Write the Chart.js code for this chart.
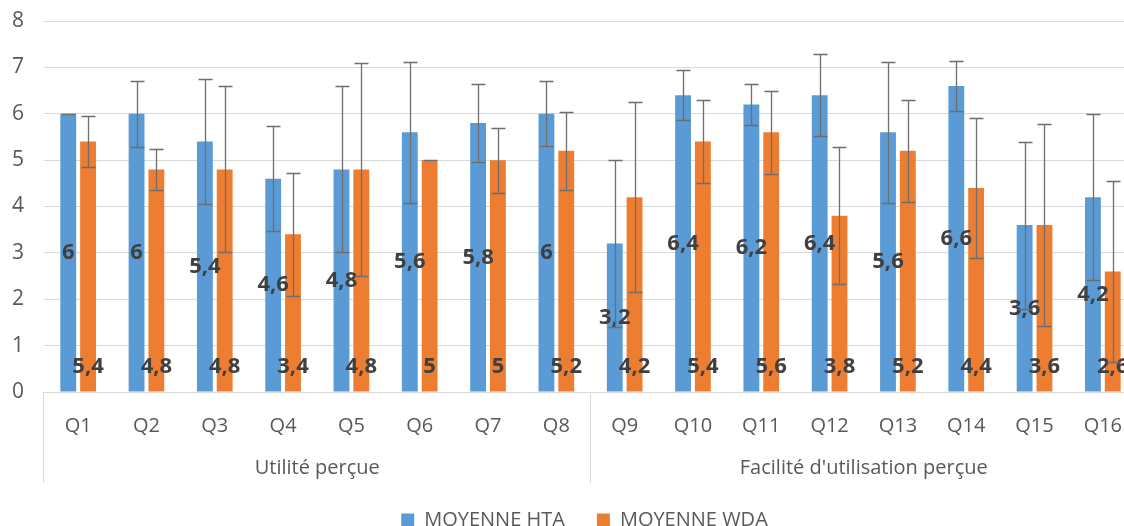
<!DOCTYPE html>
<html>
<head>
<meta charset="utf-8">
<title>Moyennes HTA / WDA</title>
<script src="https://cdn.jsdelivr.net/npm/chart.js@4"></script>
<style>
  body { margin: 0; background: #fff; overflow: hidden; }
  #wrap { width: 1150px; height: 526px; }
</style>
</head>
<body>
<div id="wrap"><canvas id="chart"></canvas></div>
<script>
const questions = ["Q1", "Q2", "Q3", "Q4", "Q5", "Q6", "Q7", "Q8",
  "Q9", "Q10", "Q11", "Q12", "Q13", "Q14", "Q15", "Q16"];
const groupNames = ["Utilité perçue", "Facilité d'utilisation perçue"];
const groupSizes = [8, 8];
const htaMeans = [6, 6, 5.4, 4.6, 4.8, 5.6, 5.8, 6, 3.2, 6.4, 6.2, 6.4, 5.6, 6.6, 3.6, 4.2];
const wdaMeans = [5.4, 4.8, 4.8, 3.4, 4.8, 5, 5, 5.2, 4.2, 5.4, 5.6, 3.8, 5.2, 4.4, 3.6, 2.6];
const htaErrors = [0, 0.71, 1.34, 1.13, 1.79, 1.52, 0.84, 0.7, 1.8, 0.54, 0.45, 0.89, 1.52, 0.54, 1.8, 1.79];
const wdaErrors = [0.55, 0.45, 1.79, 1.33, 2.29, 0, 0.7, 0.84, 2.05, 0.89, 0.89, 1.48, 1.1, 1.51, 2.18, 1.95];
const yTicks = [0, 1, 2, 3, 4, 5, 6, 7, 8];

const font = "'Open Sans', sans-serif";
const fmt = (v) => String(v).replace(".", ",");

const plotTop = 21;
const plotBottom = 392;
const legendTextY = 521;
const legendPad = 32;

// labels: blue ones centred in the bar, orange ones at the base
const valueLabels = {
  id: "valueLabels",
  afterDatasetsDraw(chart) {
    const ctx = chart.ctx;
    ctx.save();
    ctx.font = "bold 22px " + font;
    ctx.fillStyle = "#404040";
    ctx.textAlign = "center";
    ctx.textBaseline = "middle";
    chart.data.datasets.forEach((ds, i) => {
      chart.getDatasetMeta(i).data.forEach((bar, j) => {
        const y = i === 0 ? (bar.y + bar.base) / 2 : bar.base - 25;
        ctx.fillText(fmt(ds.data[j]), bar.x, y);
      });
    });
    ctx.restore();
  },
};

const errorBars = {
  id: "errorBars",
  afterDatasetsDraw(chart) {
    const ctx = chart.ctx;
    const ys = chart.scales.y;
    ctx.save();
    ctx.strokeStyle = "#6e6e6e";
    ctx.lineWidth = 1.3;
    chart.data.datasets.forEach((ds, i) => {
      chart.getDatasetMeta(i).data.forEach((bar, j) => {
        const v = ds.data[j];
        const e = ds.errors[j];
        const top = Math.round(ys.getPixelForValue(v + e)) + 0.5;
        const bot = Math.round(ys.getPixelForValue(v - e)) + 0.5;
        const x = Math.round(bar.x) + 0.5;
        ctx.beginPath();
        ctx.moveTo(x, top); ctx.lineTo(x, bot);
        ctx.moveTo(x - 7, top); ctx.lineTo(x + 7, top);
        ctx.moveTo(x - 7, bot); ctx.lineTo(x + 7, bot);
        ctx.stroke();
      });
    });
    ctx.restore();
  },
};

// second row of category labels + separators
const groupAxis = {
  id: "groupAxis",
  afterDraw(chart) {
    const xs = chart.scales.x;
    const ctx = chart.ctx;
    const n = questions.length;
    ctx.save();
    ctx.strokeStyle = "#d9d9d9";
    ctx.lineWidth = 1;
    ctx.fillStyle = "#595959";
    ctx.font = "20px " + font;
    ctx.textAlign = "center";
    ctx.textBaseline = "middle";
    let start = 0;
    groupNames.forEach((name, g) => {
      const x0 = xs.left + xs.width * start / n;
      const x1 = xs.left + xs.width * (start + groupSizes[g]) / n;
      const lx = Math.round(x0) - 0.5;
      ctx.beginPath();
      ctx.moveTo(lx, xs.top); ctx.lineTo(lx, xs.top + 91);
      ctx.stroke();
      ctx.fillText(name, (x0 + x1) / 2, xs.top + 76);
      start += groupSizes[g];
    });
    ctx.restore();
  },
};

// put the legend row where the reference has it
const placeLegend = {
  id: "placeLegend",
  afterLayout(chart) {
    const lg = chart.legend;
    const h = lg.bottom - lg.top;
    lg.top = legendTextY - legendPad - 11;
    lg.bottom = lg.top + h;
    lg.left += 16;
    lg.right += 16;
  },
};

new Chart(document.getElementById("chart"), {
  type: "bar",
  data: {
    labels: questions,
    datasets: [
      {
        label: "MOYENNE HTA",
        data: htaMeans,
        errors: htaErrors,
        backgroundColor: "#5b9bd5",
        categoryPercentage: 0.58,
        barPercentage: 0.8,
      },
      {
        label: "MOYENNE WDA",
        data: wdaMeans,
        errors: wdaErrors,
        backgroundColor: "#ed7d31",
        categoryPercentage: 0.58,
        barPercentage: 0.8,
      },
    ],
  },
  options: {
    responsive: true,
    maintainAspectRatio: false,
    animation: false,
    layout: { padding: { top: 0, right: 13, left: 0, bottom: 0 } },
    plugins: {
      legend: {
        position: "bottom",
        labels: {
          boxWidth: 13,
          boxHeight: 13,
          padding: legendPad,
          color: "#595959",
          font: { family: font, size: 20, lineHeight: 1 },
        },
      },
      tooltip: { enabled: false },
    },
    scales: {
      x: {
        grid: { display: false, drawTicks: false },
        border: { display: true, color: "#d9d9d9" },
        ticks: {
          color: "#595959",
          padding: 22,
          maxRotation: 0,
          autoSkip: false,
          font: { family: font, size: 20 },
        },
        afterFit(scale) {
          scale.height = 526 - plotBottom - scale.chart.legend.height;
        },
      },
      y: {
        min: 0,
        max: 8,
        afterBuildTicks(scale) { scale.ticks = yTicks.map((v) => ({ value: v })); },
        grid: { color: "#d9d9d9", drawTicks: false },
        border: { display: false },
        ticks: {
          color: "#595959",
          padding: 20,
          font: { family: font, size: 21 },
        },
        afterFit(scale) {
          scale.width = 44;
          scale.paddingTop = plotTop;
        },
      },
    },
  },
  plugins: [valueLabels, errorBars, groupAxis, placeLegend],
});
</script>
</body>
</html>
